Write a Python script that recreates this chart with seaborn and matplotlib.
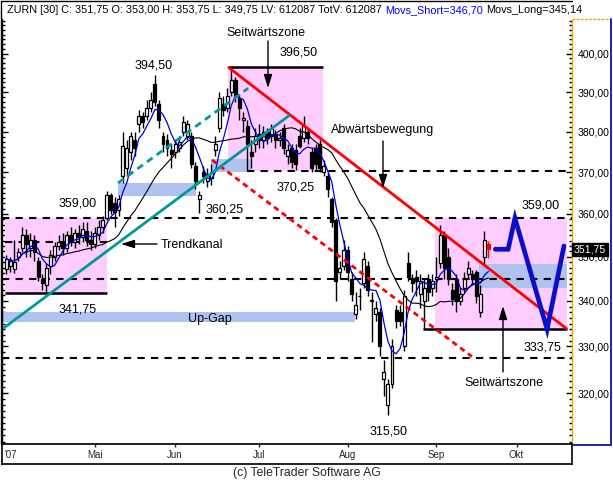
import numpy as np
import pandas as pd
import matplotlib
matplotlib.use('Agg')
import matplotlib.pyplot as plt
import seaborn as sns
from matplotlib.lines import Line2D
from matplotlib.ticker import FixedLocator, FuncFormatter, NullFormatter

# ---------------- data ----------------
open_ = [347.3, 348.0, 347.3, 350.0, 352.0, 355.0, 352.0, 354.0, 349.0, 345.0,
         343.5, 348.0, 350.0, 352.5, 353.5, 352.0, 355.0, 353.5, 355.5, 354.5,
         356.0, 354.0, 353.0, 355.0, 357.0, 359.0, 364.5, 362.5, 361.0, 369.0,
         371.0, 375.0, 378.0, 382.0, 384.0, 384.0, 386.0, 392.0, 387.0, 379.0,
         378.0, 375.5, 375.0, 376.0, 380.0, 379.0, 379.0, 371.5, 363.5, 370.0,
         368.0, 368.5, 375.5, 381.0, 387.0, 386.0, 390.0, 393.0, 388.5, 383.0,
         381.5, 375.0, 377.0, 379.5, 378.0, 380.0, 379.0, 379.5, 378.0, 381.0,
         374.0, 376.0, 375.5, 379.0, 378.5, 380.0, 375.0, 376.0, 377.0, 370.0,
         369.0, 363.5, 358.5, 346.5, 348.0, 351.5, 345.0, 337.0, 341.0, 344.0,
         348.0, 340.0, 337.0, 337.5, 323.0, 317.5, 322.0, 338.0, 337.5, 330.0,
         348.5, 345.0, 345.5, 341.5, 340.0, 345.0, 343.0, 345.0, 348.5, 355.0,
         350.0, 342.5, 345.0, 340.0, 343.0, 346.0, 346.0, 346.5, 337.5, 350.0,
         353.0]
high_ = [350.5, 350.0, 354.0, 352.0, 357.0, 356.5, 355.5, 355.0, 350.0, 346.0,
         348.5, 351.5, 353.5, 355.0, 355.5, 356.0, 357.0, 356.5, 357.5, 358.0,
         358.0, 356.0, 357.0, 358.5, 359.5, 365.5, 365.0, 364.0, 364.5, 380.0,
         378.0, 380.0, 380.0, 385.5, 385.0, 388.0, 390.0, 394.5, 388.0, 380.0,
         379.5, 377.0, 378.0, 379.0, 384.0, 383.0, 380.0, 372.5, 365.5, 371.5,
         371.0, 372.0, 379.0, 390.0, 389.0, 391.0, 396.5, 394.0, 389.5, 385.0,
         383.0, 378.0, 381.0, 382.0, 381.5, 381.0, 382.0, 380.5, 380.0, 382.0,
         377.0, 377.0, 377.0, 381.0, 384.0, 381.0, 376.0, 377.0, 378.0, 373.0,
         370.0, 364.0, 359.0, 349.0, 354.0, 352.5, 346.5, 342.0, 343.0, 351.0,
         349.0, 342.0, 340.0, 338.5, 327.0, 323.0, 331.5, 339.0, 339.0, 342.5,
         351.0, 346.0, 347.0, 346.0, 345.0, 346.0, 346.0, 350.0, 357.5, 356.0,
         352.0, 344.0, 346.0, 343.0, 346.5, 349.0, 347.0, 347.0, 343.5, 356.0,
         353.75]
low_ = [346.0, 346.5, 346.2, 349.0, 351.0, 350.0, 350.0, 349.0, 344.5, 342.5,
        341.75, 346.0, 349.0, 351.5, 350.5, 351.0, 352.5, 352.0, 353.0, 353.5,
        352.5, 351.5, 352.0, 354.0, 355.5, 358.5, 360.0, 357.0, 359.5, 367.5,
        369.0, 373.0, 374.0, 380.0, 381.0, 383.0, 385.0, 386.5, 381.0, 375.0,
        374.0, 371.0, 373.5, 375.0, 379.0, 378.0, 371.0, 366.0, 360.25, 367.5,
        366.5, 367.0, 374.0, 380.0, 384.0, 385.0, 389.0, 387.5, 383.0, 380.0,
        370.5, 371.0, 375.0, 376.0, 376.0, 377.0, 377.5, 376.0, 376.5, 374.5,
        372.0, 371.0, 370.5, 376.0, 377.5, 377.0, 370.0, 370.5, 370.0, 369.0,
        364.0, 357.0, 340.0, 345.0, 347.0, 344.5, 340.0, 336.0, 338.0, 343.0,
        341.0, 331.0, 335.5, 328.0, 319.5, 315.5, 321.0, 334.0, 334.5, 329.0,
        344.5, 342.0, 341.0, 338.5, 333.75, 340.0, 341.0, 342.0, 347.5, 345.0,
        343.5, 339.0, 337.5, 339.0, 342.0, 345.0, 343.5, 339.5, 336.5, 348.0,
        349.75]
close_ = [349.5, 349.0, 348.8, 351.0, 355.0, 353.0, 354.0, 351.0, 345.5, 344.0,
          347.5, 350.5, 352.5, 353.5, 352.0, 355.0, 353.5, 355.5, 354.5, 356.5,
          354.0, 353.0, 355.5, 357.0, 358.5, 364.5, 361.0, 360.5, 363.5, 376.5,
          376.0, 379.0, 376.0, 384.0, 382.5, 386.0, 388.0, 387.5, 383.0, 377.0,
          376.0, 374.5, 377.0, 377.5, 382.5, 382.0, 372.0, 368.0, 364.5, 369.0,
          369.5, 370.0, 377.0, 388.5, 385.5, 389.0, 393.0, 389.0, 386.0, 383.5,
          377.0, 374.0, 379.0, 378.0, 380.0, 378.5, 381.0, 378.0, 378.5, 376.0,
          375.5, 372.5, 372.0, 376.5, 381.5, 378.5, 371.0, 372.0, 371.0, 371.5,
          366.0, 358.0, 344.5, 347.5, 351.5, 346.5, 341.5, 339.0, 341.0, 349.5,
          342.5, 340.2, 338.5, 330.0, 324.5, 322.0, 330.0, 335.5, 335.5, 341.0,
          345.5, 344.0, 344.5, 344.5, 343.0, 342.0, 344.5, 345.5, 355.0, 347.5,
          345.0, 340.5, 340.0, 341.5, 345.0, 347.5, 345.0, 341.0, 341.5, 354.0,
          351.75]

holidays = ['2007-04-06', '2007-04-09', '2007-05-01', '2007-05-17', '2007-05-28', '2007-08-01']
month_numbers = [5, 6, 7, 8, 9, 10]
month_labels = ['Mai', 'Jun', 'Jul', 'Aug', 'Sep', 'Okt']
year_label = "'07"
y_tick_values = [320, 330, 340, 350, 360, 370, 380, 390, 400]

short_window = 5
long_window = 20

# projection path (trading-day index, price)
proj_idx = [121.7, 124.9, 126.6, 134.6, 138.8]
proj_price = [351.75, 351.75, 359.0, 333.75, 352.5]

# trend lines (index pairs, price pairs)
red_solid_idx, red_solid_price = [55.2, 139.6], [396.5, 333.75]
red_dash_idx, red_dash_price = [51.2, 115.9], [373.0, 327.8]
teal_solid_idx, teal_solid_price = [-0.8, 70.6], [333.9, 384.2]
teal_dash_idx, teal_dash_price = [27.8, 60.2], [367.4, 391.0]

# zones: (idx_from, idx_to, price_low, price_high)
pink_zones = [(-0.3, 25.1, 341.75, 359.0), (55.2, 78.8, 370.25, 396.5), (106.7, 139.6, 333.75, 359.0)]
gap_zones = [(-0.8, 86.8, 335.4, 337.6), (27.8, 47.2, 364.2, 367.4),
             (51.0, 60.9, 370.0, 373.2), (117.7, 139.6, 342.8, 348.3)]
solid_levels = [(341.75, -0.3, 25.1), (396.5, 55.2, 78.8), (333.75, 103.7, 139.6)]
dashed_levels = [(359.0, None, None), (345.0, None, None), (327.5, None, None),
                 (353.5, -0.3, 25.8), (370.25, 59.9, None)]

header_black = 'ZURN [30] C: 351,75 O: 353,00 H: 353,75 L: 349,75 LV: 612087 TotV: 612087'
header_blue = 'Movs_Short=346,70'
header_black2 = 'Movs_Long=345,14'
last_label = '351,75'

# ---------------- figure ----------------
sns.set_style('white')
plt.rcParams['font.family'] = ['Liberation Sans', 'DejaVu Sans']

W, H = 613, 482
fig = plt.figure(figsize=(W / 100, H / 100), dpi=100)
fig.patch.set_facecolor('white')


def fx(p):
    return p / W


def fy(p):
    return 1 - p / H


AX_L, AX_R, AX_T, AX_B = 2, 572, 19, 444
ax = fig.add_axes([fx(AX_L), fy(AX_B), fx(AX_R) - fx(AX_L), fy(AX_T) - fy(AX_B)])
ax.set_facecolor('white')
XLIM = (-1.07, 140.8)
YLIM = (309.5, 409.2)
ax.set_yscale('log')
ax.set_xlim(*XLIM)
ax.set_ylim(*YLIM)


def px2data(x, y):
    xi = XLIM[0] + (x - AX_L) / (AX_R - AX_L) * (XLIM[1] - XLIM[0])
    ly = np.log(YLIM[0]) + (AX_B - y) / (AX_B - AX_T) * np.log(YLIM[1] / YLIM[0])
    return xi, float(np.exp(ly))


o = np.array(open_)
h = np.array(high_)
l = np.array(low_)
c = np.array(close_)
n = len(c)
idx = np.arange(n)

# zones
for x0, x1, lo, hi in pink_zones:
    ax.fill_between([x0, x1], [lo, lo], [hi, hi], color='#FFCCFF', lw=0, zorder=1)
for x0, x1, lo, hi in gap_zones:
    ax.fill_between([x0, x1], [lo, lo], [hi, hi], color='#B0C2F0', lw=0, zorder=1.5)

# levels
for lev, x0, x1 in dashed_levels:
    x0 = XLIM[0] if x0 is None else x0
    x1 = XLIM[1] if x1 is None else x1
    ax.plot([x0, x1], [lev, lev], color='black', lw=1.5, ls=(0, (3.5, 3)), zorder=2)
for lev, x0, x1 in solid_levels:
    ax.plot([x0, x1], [lev, lev], color='black', lw=1.8, zorder=2.5, solid_capstyle='butt')

# candles
face = np.where(c >= o, 'white', 'black').astype(object)
edge = np.array(['black'] * n, dtype=object)
face[-1] = '#FF0000'
edge[-1] = '#FF0000'
wick_col = ['black'] * (n - 1) + ['#FF0000']
ax.vlines(idx, l, h, colors=wick_col, lw=1.0, zorder=3)
body_lo = np.minimum(o, c)
body_h = np.maximum(np.abs(c - o), 0.15)
ax.bar(idx, body_h, bottom=body_lo, width=0.74, color=list(face), edgecolor=list(edge),
       linewidth=0.9, zorder=4)

# moving averages
ma_df = pd.DataFrame({'idx': idx,
                      'short': pd.Series(c).rolling(short_window, min_periods=1).mean(),
                      'long': pd.Series(c).rolling(long_window, min_periods=1).mean()})
sns.lineplot(data=ma_df, x='idx', y='long', ax=ax, color='black', lw=0.8, zorder=5)
sns.lineplot(data=ma_df, x='idx', y='short', ax=ax, color='#0000DD', lw=0.9, zorder=5)
ax.set_xlabel('')
ax.set_ylabel('')

# trend lines
ax.plot(red_solid_idx, red_solid_price, color='#FF0000', lw=2.0, zorder=6, solid_capstyle='butt')
ax.plot(red_dash_idx, red_dash_price, color='#FF0000', lw=2.0, ls=(0, (2, 1.5)), zorder=6)
ax.plot(teal_solid_idx, teal_solid_price, color='#009999', lw=2.0, zorder=6, solid_capstyle='butt')
ax.plot(teal_dash_idx, teal_dash_price, color='#009999', lw=2.0, ls=(0, (2.5, 1.8)), zorder=6)

# projection
ax.plot(proj_idx, proj_price, color='#0A10C8', lw=3.4, zorder=7, solid_joinstyle='miter')

# annotations (pixel positions converted to data)
AFS = 9
def label(x, y, s, ha='center'):
    xi, yp = px2data(x, y)
    ax.text(xi, yp, s, ha=ha, va='center', fontsize=AFS, color='black', zorder=9)


def arrow(x0, y0, x1, y1):
    a = px2data(x0, y0)
    b = px2data(x1, y1)
    ax.annotate('', xy=b, xytext=a,
                arrowprops=dict(arrowstyle='-|>,head_length=0.8,head_width=0.25',
                                color='black', lw=1.0, shrinkA=0, shrinkB=0), zorder=9)


label(266, 33, 'Seitwärtszone')
arrow(268, 41, 268, 88)
label(299, 52, '396,50')
label(154, 65, '394,50')
label(225, 210, '360,25')
label(296, 187, '370,25')
label(331, 130, 'Abwärtsbewegung', ha='left')
arrow(383, 141, 383, 188)
label(78, 204, '359,00')
label(161, 245, 'Trendkanal', ha='left')
arrow(157, 244, 121, 244)
label(78, 310, '341,75')
label(210, 319, 'Up-Gap')
label(389, 432, '315,50')
label(541, 206, '359,00')
label(542, 347, '333,75')
label(504, 383, 'Seitwärtszone')
arrow(503, 372, 503, 306)

# axes styling
ax.spines['top'].set_visible(False)
ax.spines['left'].set_color('black')
ax.spines['left'].set_linewidth(1.0)
ax.spines['bottom'].set_color('black')
ax.spines['bottom'].set_linewidth(1.0)
ax.spines['right'].set_color('#F0A000')
ax.spines['right'].set_linestyle((0, (1, 1)))
ax.spines['right'].set_linewidth(1.0)
ax.set_xticks([])
ax.yaxis.set_major_locator(FixedLocator(y_tick_values))
minor_vals = np.arange(305.0, 412.0, 1.25)
ax.yaxis.set_minor_locator(FixedLocator(minor_vals))
ax.yaxis.set_major_formatter(FuncFormatter(lambda v, p: f'{v:.2f}'.replace('.', ',')))
ax.yaxis.set_minor_formatter(NullFormatter())
ax.tick_params(axis='y', which='both', left=True, right=True, labelleft=False, labelright=True,
               direction='in', colors='black', labelsize=7.6, pad=4)
ax.tick_params(axis='y', which='major', length=4, width=1)
ax.tick_params(axis='y', which='minor', length=2, width=1)
for t in ax.get_yticklabels():
    t.set_ha('left')

# last price box
ax.text(1.003, np.log(351.75 / YLIM[0]) / np.log(YLIM[1] / YLIM[0]), last_label,
        transform=ax.transAxes, ha='left', va='center', fontsize=7.6, color='white',
        bbox=dict(boxstyle='square,pad=0.15', fc='black', ec='black'), zorder=10, clip_on=False)

# date strip
days = pd.bdate_range('2007-03-28', '2007-10-31')
days = days[~days.isin(pd.to_datetime(holidays))]
month_idx = [int(np.argmax(days.month == m)) for m in month_numbers]
ax2 = fig.add_axes([fx(AX_L), fy(464), fx(AX_R) - fx(AX_L), fy(444) - fy(464)])
ax2.set_xlim(*XLIM)
ax2.set_ylim(0, 1)
ax2.set_yticks([])
ax2.set_xticks(month_idx)
ax2.set_xticklabels([])
ax2.tick_params(axis='x', which='both', bottom=False, top=True, direction='in', length=2, width=1)
for s in ax2.spines.values():
    s.set_color('black')
    s.set_linewidth(1.2)
ax2.set_facecolor('white')
DFS = 7
dfam = ['Liberation Sans Narrow', 'Liberation Sans', 'DejaVu Sans']
for mi, lab in zip(month_idx, month_labels):
    ax2.text(mi, 0.45, lab, ha='center', va='center', fontsize=DFS, family=dfam)
ax2.text(0.004, 0.45, year_label, transform=ax2.transAxes, ha='left', va='center',
         fontsize=DFS, family=dfam)

# frame and right panel decoration
fig.add_artist(Line2D([fx(1), fx(572)], [fy(1), fy(1)], color='black', lw=1.0))
fig.add_artist(Line2D([fx(1), fx(1)], [fy(1), fy(444)], color='black', lw=1.0))
fig.add_artist(Line2D([fx(572), fx(610)], [fy(19), fy(19)], color='#F0A000', lw=1.0, ls=(0, (2, 1))))
fig.add_artist(Line2D([fx(611), fx(611)], [fy(19), fy(445)], color='#1A2A9A', lw=1.4))
fig.add_artist(Line2D([fx(572), fx(611)], [fy(445), fy(445)], color='#1A2A9A', lw=1.4))

# header
HFS = 7.8
fig.canvas.draw()
r = fig.canvas.get_renderer()
t1 = fig.text(fx(7), fy(10), header_black, ha='left', va='center', fontsize=HFS, color='black')
bb = t1.get_window_extent(r)
t2 = fig.text((bb.x1 + 3.5) / W, fy(10), header_blue, ha='left', va='center', fontsize=HFS, color='#0000FF')
bb2 = t2.get_window_extent(r)
fig.text((bb2.x1 + 3.5) / W, fy(10), header_black2, ha='left', va='center', fontsize=HFS, color='black')

# footer
fig.text(fx(307), fy(473), '(c) TeleTrader Software AG', ha='center', va='center', fontsize=8.8)

fig.savefig('out.png', dpi=100)
